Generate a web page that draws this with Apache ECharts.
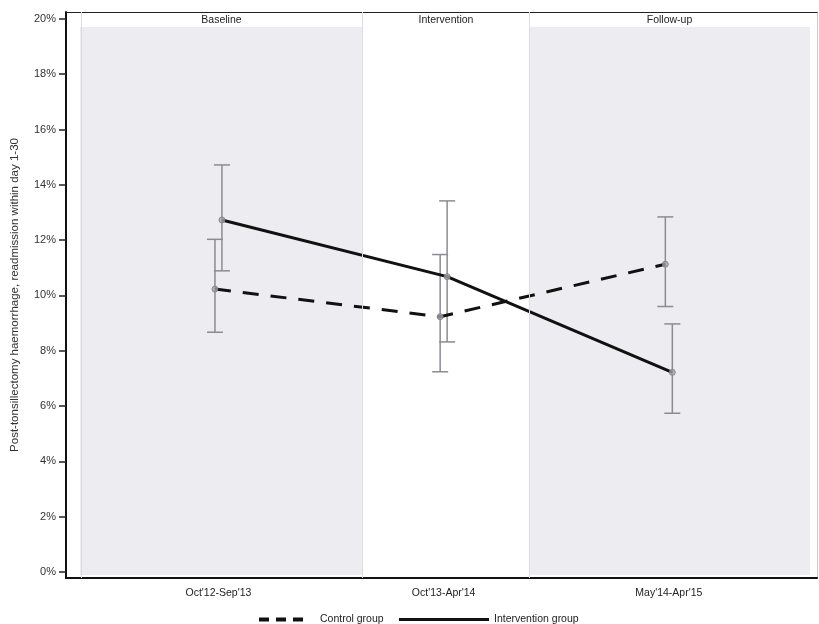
<!DOCTYPE html>
<html><head><meta charset="utf-8">
<script src="https://cdn.jsdelivr.net/npm/echarts@6/dist/echarts.min.js"></script>
<style>html,body{margin:0;padding:0;background:#fff}#c{width:819px;height:624px}</style>
</head><body><div id="c"></div>
<script>
const periods = ["Oct'12-Sep'13", "Oct'13-Apr'14", "May'14-Apr'15"];
const phases = ["Baseline", "Intervention", "Follow-up"];
const yTicks = [0, 2, 4, 6, 8, 10, 12, 14, 16, 18, 20];
const controlRate = [10.23, 9.23, 11.13];
const controlLow = [8.67, 7.24, 9.60];
const controlHigh = [12.03, 11.48, 12.84];
const interventionRate = [12.73, 10.68, 7.22];
const interventionLow = [10.89, 8.32, 5.74];
const interventionHigh = [14.72, 13.42, 8.97];

const X_MIN = 0.323, X_MAX = 3.658, Y_MIN = -0.217, Y_MAX = 20.25;
const OFF = 0.0155;
const bands = [[0.385, 1.642], [1.642, 2.379], [2.379, 3.627]];
const shaded = [true, false, true];
const FONT = 'Liberation Sans, Arial, sans-serif';

function errorSeries(name, low, high, off) {
  return {
    type: 'custom', name: name, silent: true, z: 2,
    renderItem(params, api) {
      const x = api.value(0), lo = api.value(1), hi = api.value(2);
      const a = api.coord([x, lo]), b = api.coord([x, hi]);
      const hw = 8;
      const style = { stroke: '#8c8b92', lineWidth: 1.5 };
      return { type: 'group', children: [
        { type: 'line', shape: { x1: a[0], y1: a[1], x2: b[0], y2: b[1] }, style },
        { type: 'line', shape: { x1: a[0] - hw, y1: a[1], x2: a[0] + hw, y2: a[1] }, style },
        { type: 'line', shape: { x1: b[0] - hw, y1: b[1], x2: b[0] + hw, y2: b[1] }, style }
      ]};
    },
    encode: { x: 0, y: [1, 2] },
    data: low.map((v, i) => [i + 1 + off, v, high[i]])
  };
}

const markAreaData = [];
bands.forEach((b, i) => {
  if (shaded[i]) markAreaData.push([
    { xAxis: b[0], yAxis: -0.11, itemStyle: { color: '#ededf1' } },
    { xAxis: b[1], yAxis: 19.71 }
  ]);
  markAreaData.push([
    { xAxis: b[0], yAxis: 19.71, itemStyle: { color: 'rgba(0,0,0,0)' },
      label: { show: true, position: 'inside', formatter: phases[i], color: '#222', fontSize: 10.5, fontFamily: FONT, offset: [0, 1] } },
    { xAxis: b[1], yAxis: Y_MAX }
  ]);
});

const chart = echarts.init(document.getElementById('c'), null, { renderer: 'canvas' });
chart.setOption({
  backgroundColor: '#ffffff',
  animation: false,
  textStyle: { fontFamily: FONT },
  grid: { left: 66, right: 2, top: 12, bottom: 46, containLabel: false, outerBoundsMode: 'none' },
  legend: [
    { data: ['Control group'], left: 254, top: 609, itemWidth: 44, itemHeight: 4, itemGap: 8,
      icon: 'path://M0,0h10v4h-10z M17,0h10v4h-10z M34,0h10v4h-10z',
      textStyle: { fontSize: 10.5, color: '#222', fontFamily: FONT, padding: [0, 0, 0, 12] } },
    { data: ['Intervention group'], left: 394, top: 609, itemWidth: 90, itemHeight: 3,
      icon: 'rect',
      textStyle: { fontSize: 10.5, color: '#222', fontFamily: FONT } }
  ],
  xAxis: [
    { type: 'value', min: X_MIN, max: X_MAX, position: 'bottom',
      axisLine: { show: true, onZero: false, lineStyle: { color: '#111', width: 2 } },
      axisTick: { show: false }, splitLine: { show: false },
      axisLabel: { customValues: [1, 2, 3], formatter: v => periods[Math.round(v) - 1], fontSize: 10.5, color: '#222', margin: 10 } },
    { type: 'value', min: X_MIN, max: X_MAX, position: 'top',
      axisLine: { show: true, onZero: false, lineStyle: { color: '#222', width: 1.2 } },
      axisTick: { show: false }, axisLabel: { show: false }, splitLine: { show: false } }
  ],
  yAxis: [
    { type: 'value', min: Y_MIN, max: Y_MAX, position: 'left',
      name: 'Post-tonsillectomy haemorrhage, readmission within day 1-30',
      nameLocation: 'middle', nameGap: 45, nameRotate: 90,
      nameTextStyle: { fontSize: 11.5, color: '#333', fontFamily: FONT },
      axisLine: { show: true, onZero: false, lineStyle: { color: '#111', width: 2 } },
      axisTick: { show: true, length: 7, customValues: yTicks, lineStyle: { color: '#222', width: 1.5 } },
      axisLabel: { customValues: yTicks, formatter: '{value}%', fontSize: 11, color: '#333', margin: 10 },
      splitLine: { show: false } },
    { type: 'value', min: Y_MIN, max: Y_MAX, position: 'right',
      axisLine: { show: true, onZero: false, lineStyle: { color: '#c8c8cc', width: 1 } },
      axisTick: { show: false }, axisLabel: { show: false }, splitLine: { show: false } }
  ],
  series: [
    { type: 'line', name: 'bands', data: [], z: 0, silent: true,
      markArea: { silent: true, data: markAreaData },
      markLine: { silent: true, symbol: 'none', label: { show: false },
        lineStyle: { color: '#dcdce0', width: 1, type: 'solid' },
        data: [{ xAxis: bands[0][0] }, { xAxis: bands[1][0] }, { xAxis: bands[2][0] }] } },
    errorSeries('Control CI', controlLow, controlHigh, -OFF),
    errorSeries('Intervention CI', interventionLow, interventionHigh, OFF),
    { type: 'line', name: 'Control group', z: 3, symbol: 'none',
      lineStyle: { color: '#111', width: 3, type: [16, 12] }, itemStyle: { color: '#111' },
      data: controlRate.map((v, i) => [i + 1 - OFF, v]) },
    { type: 'line', name: 'Intervention group', z: 3, symbol: 'none',
      lineStyle: { color: '#111', width: 3 }, itemStyle: { color: '#111' },
      data: interventionRate.map((v, i) => [i + 1 + OFF, v]) },
    { type: 'scatter', name: 'Control pts', z: 4, symbolSize: 6,
      itemStyle: { color: '#a4a3ab', borderColor: '#7d7c84', borderWidth: 1 },
      data: controlRate.map((v, i) => [i + 1 - OFF, v]) },
    { type: 'scatter', name: 'Intervention pts', z: 4, symbolSize: 6,
      itemStyle: { color: '#a4a3ab', borderColor: '#7d7c84', borderWidth: 1 },
      data: interventionRate.map((v, i) => [i + 1 + OFF, v]) }
  ]
});
</script></body></html>
